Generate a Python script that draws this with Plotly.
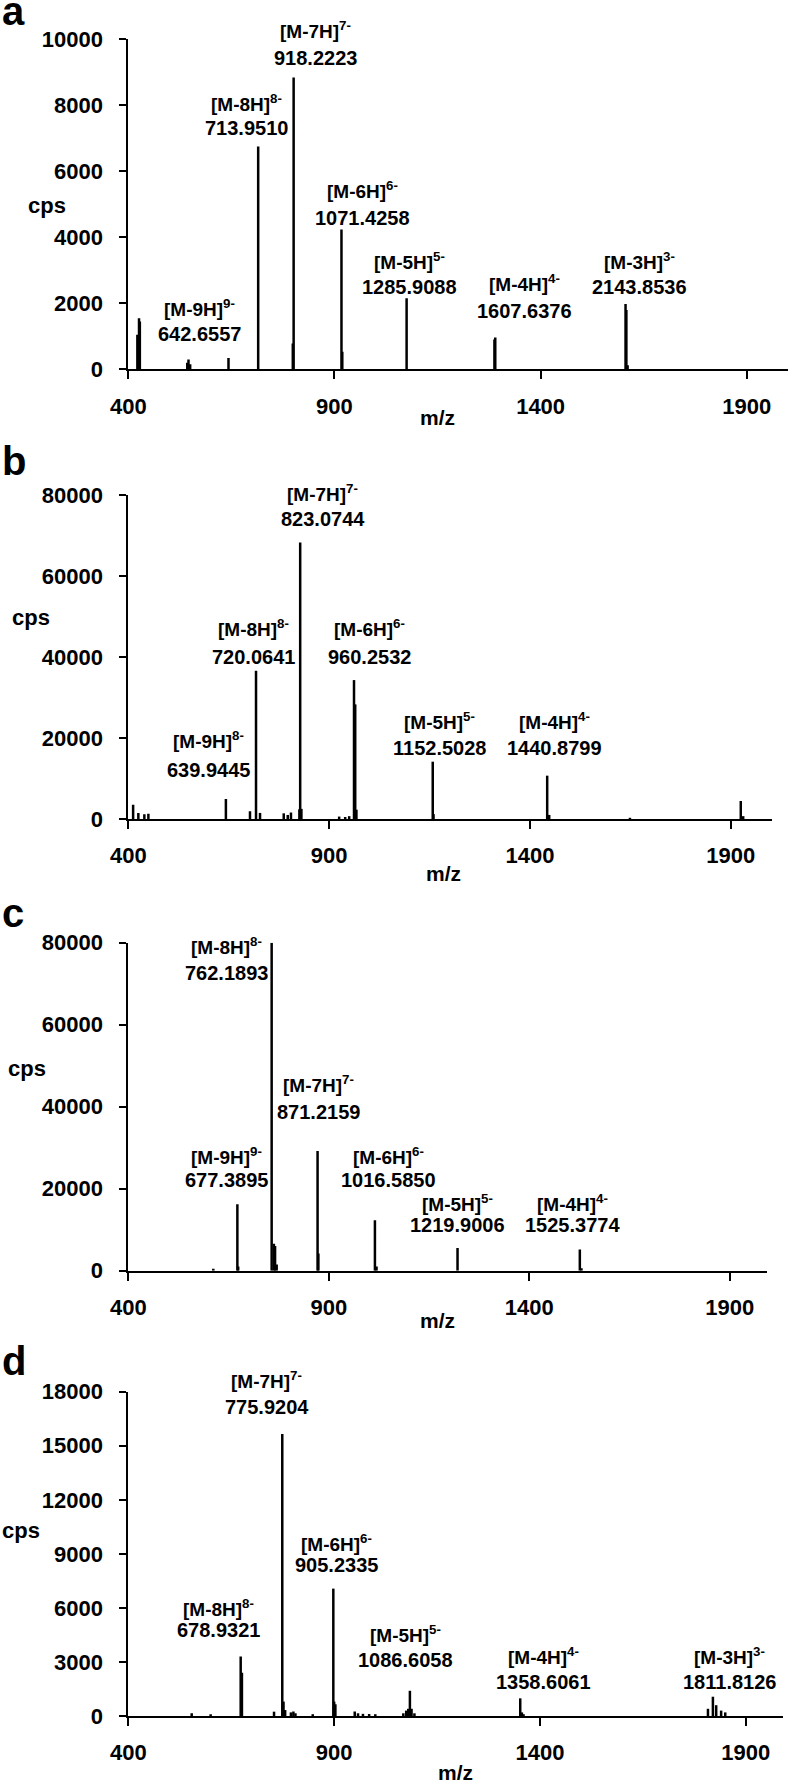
import plotly.graph_objects as go

W, H = 788, 1787
FONT = "Liberation Sans, Arial, sans-serif"

# ---------------- data (m/z position as drawn, intensity in cps) ----------------
a_mz = [422, 426, 428, 543, 546, 550, 643, 715, 799, 801, 917, 919, 1075, 1288, 1290, 1606, 1608, 1611]
a_int = [1050, 1550, 1450, 200, 300, 150, 340, 6750, 780, 8840, 4240, 530, 2150, 900, 960, 1980, 1800, 120]

b_mz = [412, 425, 440, 450, 643, 703, 718, 728, 787, 797, 805, 826, 828, 831, 925, 940, 950,
        962, 965, 968, 1158, 1160, 1443, 1448, 1649, 1925, 1931]
b_int = [3500, 1500, 1200, 1300, 4950, 1900, 36600, 1500, 1400, 1000, 1600, 2400, 68300, 2500, 600, 500, 700,
         34300, 28300, 2300, 14150, 1200, 10700, 1000, 300, 4450, 700]

c_mz = [612, 672, 674, 757.5, 763, 766, 770, 872, 874, 1015, 1019, 1221, 1526, 1530]
c_int = [500, 16200, 1000, 80000, 6600, 6000, 1500, 29200, 4200, 12300, 1000, 5550, 5200, 600]

d_mz = [554, 600, 673, 676, 754, 774, 777, 781, 795, 801, 806, 848, 898, 900, 903, 950, 958, 970, 985, 1000,
        1068, 1075, 1080, 1084, 1088, 1095, 1352, 1356, 1360, 1808, 1820, 1828, 1840, 1850]
d_int = [150, 100, 3300, 2400, 240, 15650, 800, 330, 200, 250, 150, 100, 7070, 800, 650, 250, 150, 120, 110, 100,
         150, 300, 400, 1400, 400, 150, 980, 200, 100, 400, 1070, 600, 300, 200]

x_ticks = [400, 900, 1400, 1900]
a_yticks = [0, 2000, 4000, 6000, 8000, 10000]
b_yticks = [0, 20000, 40000, 60000, 80000]
c_yticks = [0, 20000, 40000, 60000, 80000]
d_yticks = [0, 3000, 6000, 9000, 12000, 15000, 18000]

a_names = ["[M-9H]", "[M-8H]", "[M-7H]", "[M-6H]", "[M-5H]", "[M-4H]", "[M-3H]"]
a_charges = ["9-", "8-", "7-", "6-", "5-", "4-", "3-"]
a_values = ["642.6557", "713.9510", "918.2223", "1071.4258", "1285.9088", "1607.6376", "2143.8536"]

b_names = ["[M-9H]", "[M-8H]", "[M-7H]", "[M-6H]", "[M-5H]", "[M-4H]"]
b_charges = ["8-", "8-", "7-", "6-", "5-", "4-"]
b_values = ["639.9445", "720.0641", "823.0744", "960.2532", "1152.5028", "1440.8799"]

c_names = ["[M-8H]", "[M-7H]", "[M-9H]", "[M-6H]", "[M-5H]", "[M-4H]"]
c_charges = ["8-", "7-", "9-", "6-", "5-", "4-"]
c_values = ["762.1893", "871.2159", "677.3895", "1016.5850", "1219.9006", "1525.3774"]

d_names = ["[M-7H]", "[M-6H]", "[M-8H]", "[M-5H]", "[M-4H]", "[M-3H]"]
d_charges = ["7-", "6-", "8-", "5-", "4-", "3-"]
d_values = ["775.9204", "905.2335", "678.9321", "1086.6058", "1358.6061", "1811.8126"]

panel_letters = ["a", "b", "c", "d"]

# ---------------- layout (pixel geometry) ----------------
boxes = [(128.3, 788.0, 39.3, 369.3), (128.3, 771.7, 495.0, 819.0),
         (128.3, 766.7, 942.7, 1270.7), (128.3, 783.3, 1391.7, 1716.0)]
xranges = [[400, 2000], [400, 2002], [400, 1992], [400, 1991]]
yranges = [[0, 10000], [0, 80000], [0, 80000], [0, 18000]]

a_pos = [(199.5, 310, 334), (246, 105, 128), (315.7, 32, 58), (362, 192, 218),
         (409, 263, 287), (524, 285, 311), (639, 263, 287)]
b_pos = [(208, 742, 770), (253, 630, 657), (322.7, 495, 519), (369.7, 630, 657),
         (439, 723, 748), (554, 723, 748)]
c_pos = [(226.7, 948, 973), (318, 1086, 1112), (226.7, 1158, 1180), (388, 1158, 1180),
         (457.5, 1205, 1225), (572.5, 1205, 1225)]
d_pos = [(266.7, 1382, 1407), (336, 1545, 1565), (219, 1610, 1630), (405, 1636, 1660),
         (543, 1658, 1682), (729, 1658, 1682)]
letter_pos = [(0, 11), (0, 461), (0, 913), (0, 1361)]
cps_pos = [(47, 205), (31, 617), (27, 1068), (21, 1530)]
mz_pos = [(437, 417), (443, 873), (437, 1320), (455, 1772)]


def px(x):
    return x / W


def py(y):
    return 1 - y / H


def sticks(mz, inten):
    xs, ys = [], []
    for m, v in zip(mz, inten):
        xs += [m, m, None]
        ys += [0, v, None]
    return xs, ys


fig = go.Figure()
spectra = [(a_mz, a_int), (b_mz, b_int), (c_mz, c_int), (d_mz, d_int)]
yticks_all = [a_yticks, b_yticks, c_yticks, d_yticks]

layout = dict(width=W, height=H, margin=dict(l=0, r=0, t=0, b=0, autoexpand=False),
              template="none",
              paper_bgcolor="white", plot_bgcolor="white", showlegend=False,
              font=dict(family=FONT, color="black"))

for i, (mz, inten) in enumerate(spectra):
    sfx = "" if i == 0 else str(i + 1)
    xs, ys = sticks(mz, inten)
    fig.add_trace(go.Scatter(x=xs, y=ys, mode="lines", line=dict(color="black", width=2.5),
                             xaxis="x" + sfx, yaxis="y" + sfx, hoverinfo="skip"))
    l, r, t, b = boxes[i]
    layout["xaxis" + sfx] = dict(domain=[px(l), px(r)], range=xranges[i], anchor="y" + sfx,
                                 automargin=False,
                                 tickmode="array", tickvals=x_ticks, ticktext=[str(v) for v in x_ticks],
                                 showline=True, linecolor="black", linewidth=2, ticks="outside",
                                 ticklen=8, tickwidth=2, tickcolor="black", showgrid=False, zeroline=False,
                                 tickfont=dict(family=FONT, size=22, color="black", weight="bold"),
                                 ticklabelstandoff=8)
    layout["yaxis" + sfx] = dict(domain=[py(b), py(t)], range=yranges[i], anchor="x" + sfx,
                                 automargin=False,
                                 tickmode="array", tickvals=yticks_all[i],
                                 ticktext=[str(v) for v in yticks_all[i]],
                                 showline=True, linecolor="black", linewidth=2, ticks="outside",
                                 ticklen=7, tickwidth=2, tickcolor="black", showgrid=False, zeroline=False,
                                 tickfont=dict(family=FONT, size=22, color="black", weight="bold"),
                                 ticklabelstandoff=12)

annotations = []
labels = [(a_names, a_charges, a_values, a_pos), (b_names, b_charges, b_values, b_pos),
          (c_names, c_charges, c_values, c_pos), (d_names, d_charges, d_values, d_pos)]
for names, charges, values, pos in labels:
    for n, c, v, (x, yn, yv) in zip(names, charges, values, pos):
        annotations.append(dict(x=px(x), y=py(yn - 2), xref="paper", yref="paper", showarrow=False,
                                text=f"{n}<sup>{c}</sup>", xanchor="center", yanchor="middle",
                                font=dict(family=FONT, size=19, color="black", weight="bold")))
        annotations.append(dict(x=px(x), y=py(yv), xref="paper", yref="paper", showarrow=False,
                                text=v, xanchor="center", yanchor="middle",
                                font=dict(family=FONT, size=20, color="black", weight="bold")))

for letter, (x, y) in zip(panel_letters, letter_pos):
    annotations.append(dict(x=px(x), y=py(y), xref="paper", yref="paper", showarrow=False,
                            text=letter, xanchor="left", yanchor="middle",
                            font=dict(family=FONT, size=40, color="black", weight="bold")))
for (x, y) in cps_pos:
    annotations.append(dict(x=px(x), y=py(y), xref="paper", yref="paper", showarrow=False,
                            text="cps", xanchor="center", yanchor="middle",
                            font=dict(family=FONT, size=22, color="black", weight="bold")))
for (x, y) in mz_pos:
    annotations.append(dict(x=px(x), y=py(y), xref="paper", yref="paper", showarrow=False,
                            text="m/z", xanchor="center", yanchor="middle",
                            font=dict(family=FONT, size=21, color="black", weight="bold")))

layout["annotations"] = annotations
fig.update_layout(**layout)
fig.write_html("out.html", config={"displayModeBar": False},
               post_script="document.body.style.margin='0';")
